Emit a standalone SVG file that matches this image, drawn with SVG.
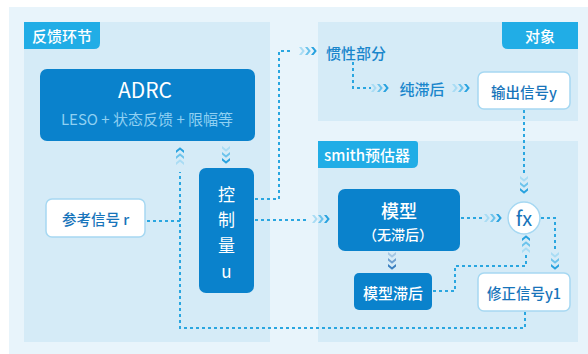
<svg xmlns="http://www.w3.org/2000/svg" xmlns:xlink="http://www.w3.org/1999/xlink" width="588" height="354" viewBox="0 0 588 354">
<style>
text{font-family:"Noto Sans CJK SC","Noto Sans",sans-serif;dominant-baseline:central;text-anchor:middle;font-weight:500}
.panel{fill:#d5ebf7}
.tab{fill:#21ade6}
.tabt{fill:#fff;font-size:15px}
.dark{fill:#0a82cc}
.wbox{fill:#fff;stroke:#a6d8f2;stroke-width:1.5}
.wt{fill:#fff}
.reg{font-weight:400}
.bt{fill:#1774ba;font-size:14.5px}
.lt{fill:#1a86cc;font-size:15px}
.dl{fill:none;stroke:#2aa6e0;stroke-width:2;stroke-dasharray:3 3}
.c1{fill:#a9dcf4}.c2{fill:#6cc3ec}.c3{fill:#28a2df}
.g1{fill:#a3c6e4}.g2{fill:#6d9fd0}.g3{fill:#3a7fc0}
</style>
<defs>
<path id="chev" d="M-3,-4 L-0.5,-4 L2.8,0 L-0.5,4 L-3,4 L0.2,0 Z"/>
<g id="tri"><use xlink:href="#chev" x="-6" class="c1"/><use xlink:href="#chev" x="0" class="c2"/><use xlink:href="#chev" x="6" class="c3"/></g>
<g id="trig"><use xlink:href="#chev" x="-6" class="g1"/><use xlink:href="#chev" x="0" class="g2"/><use xlink:href="#chev" x="6" class="g3"/></g>
</defs>
<rect x="9" y="7" width="579" height="347" fill="#e8f4fb"/>
<g id="panel-feedback">
<rect class="panel" x="24" y="22" width="246" height="320"/>
<path class="tab" d="M24,22 H100 V43 Q100,49 94,49 H24 Z"/>
<text class="tabt" x="62" y="35.5">反馈环节</text>
</g>
<g id="panel-object">
<rect class="panel" x="318" y="22" width="260" height="99"/>
<path class="tab" d="M502,22 H578 V49 H508 Q502,49 502,43 Z"/>
<text class="tabt" x="540" y="35.5">对象</text>
</g>
<g id="panel-smith">
<rect class="panel" x="318" y="141" width="260" height="201"/>
<path class="tab" d="M318,141 H415 Q418,141 418,144 V162 Q418,168 412,168 H318 Z"/>
<text class="tabt" x="367" y="154.5">smith预估器</text>
</g>
<g id="connectors">
<polyline class="dl" points="525,312 525,328 180,328 180,172"/>
<line class="dl" x1="147" y1="221" x2="180" y2="221"/>
<polyline class="dl" points="255,199 279,199 279,51 292,51"/>
<polyline class="dl" points="353,62 353,88 371,88"/>
<polyline class="dl" points="524,110 524,176"/>
<line class="dl" x1="255" y1="220" x2="309" y2="220"/>
<line class="dl" x1="461" y1="218" x2="482" y2="218"/>
<polyline class="dl" points="433,291 455,291 455,266 526,266 526,254"/>
<polyline class="dl" points="541,218 555,218 555,251"/>
<use xlink:href="#tri" transform="translate(180,156) rotate(-90)"/>
<use xlink:href="#tri" transform="translate(226,155) rotate(90)"/>
<use xlink:href="#tri" transform="translate(308,51)"/>
<use xlink:href="#tri" transform="translate(380,88)"/>
<use xlink:href="#tri" transform="translate(461,88)"/>
<use xlink:href="#tri" transform="translate(524,185) rotate(90)"/>
<use xlink:href="#tri" transform="translate(321,219)"/>
<use xlink:href="#tri" transform="translate(493,218)"/>
<use xlink:href="#trig" transform="translate(392,261) rotate(90)"/>
<use xlink:href="#tri" transform="translate(526,244) rotate(-90)"/>
<use xlink:href="#tri" transform="translate(555,261) rotate(90)"/>
</g>
<g id="adrc">
<rect class="dark" x="40" y="69" width="215" height="72" rx="7"/>
<text class="wt reg" x="145" y="89" font-size="21">ADRC</text>
<text class="reg" x="147" y="118" font-size="15" fill="#8fd0f2">LESO + 状态反馈 + 限幅等</text>
</g>
<g id="control">
<rect class="dark" x="199" y="168" width="55" height="125" rx="7"/>
<text class="wt reg" x="226.5" y="193" font-size="17">控</text>
<text class="wt reg" x="226.5" y="218" font-size="17">制</text>
<text class="wt reg" x="226.5" y="244" font-size="17">量</text>
<text class="wt reg" x="226.5" y="270" font-size="17">u</text>
</g>
<g id="ref">
<rect class="wbox" x="46" y="199" width="99" height="38" rx="6"/>
<text class="bt" x="95.5" y="218">参考信号 r</text>
</g>
<g id="inertia"><text class="lt" x="356" y="52">惯性部分</text></g>
<g id="delay"><text class="lt" x="422" y="88">纯滞后</text></g>
<g id="output">
<rect class="wbox" x="478" y="72" width="92" height="37" rx="6"/>
<text class="bt" x="524" y="91">输出信号y</text>
</g>
<g id="model">
<rect class="dark" x="338" y="189" width="122" height="62" rx="7"/>
<text class="wt" x="399" y="210" font-size="18">模型</text>
<text class="wt" x="398" y="234" font-size="14">（无滞后）</text>
</g>
<g id="model-delay">
<rect class="dark" x="354" y="273" width="78" height="37" rx="5"/>
<text class="wt" x="393" y="292" font-size="15">模型滞后</text>
</g>
<g id="fx">
<circle cx="524" cy="218" r="16" fill="#fff" stroke="#a6d8f2" stroke-width="1.5"/>
<text class="reg" x="524" y="217" font-size="20" fill="#1774ba">fx</text>
</g>
<g id="correct">
<rect class="wbox" x="478" y="273" width="92" height="38" rx="6"/>
<text class="bt" x="524" y="292">修正信号y1</text>
</g>
</svg>
